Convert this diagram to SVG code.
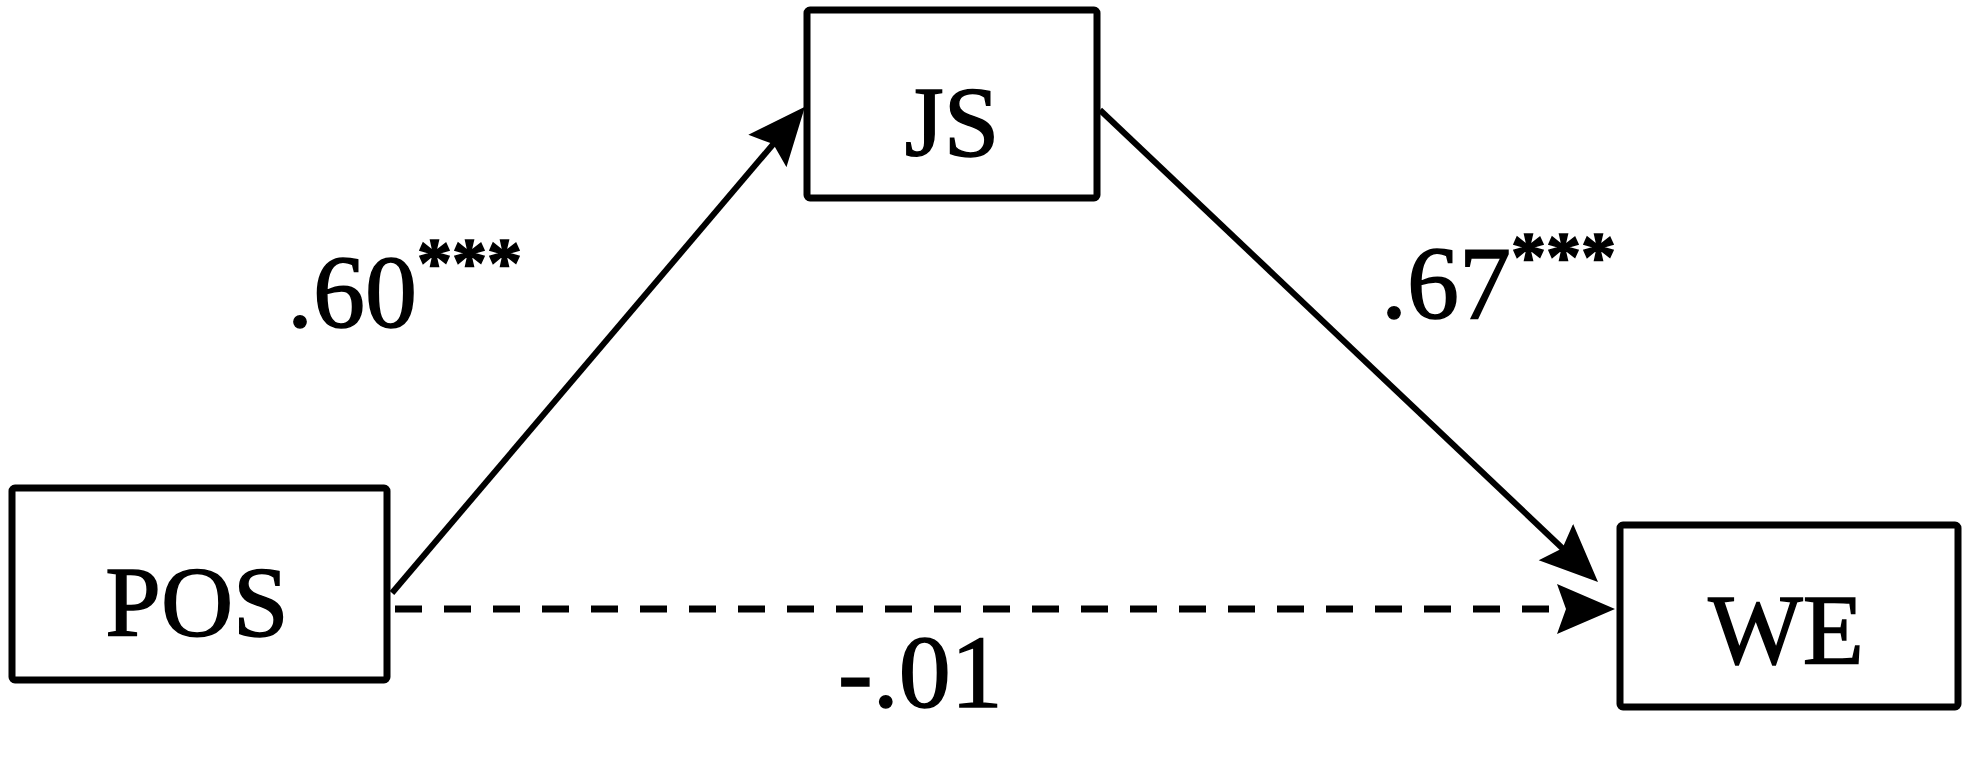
<svg xmlns="http://www.w3.org/2000/svg" width="1983" height="768" viewBox="0 0 1983 768">
<style>
.box{fill:#fff;stroke:#000;stroke-width:7}
.lbl{font-family:"Liberation Serif","Times New Roman",serif;font-size:100px;fill:#000;stroke:#000;stroke-width:1.5;text-anchor:middle}
.num{font-family:"Liberation Serif","Times New Roman",serif;font-size:104px;fill:#000;stroke:#000;stroke-width:1.5}
.star{font-size:70px;font-weight:bold}
.edge{fill:none;stroke:#000;stroke-width:6}
.dash{stroke-dasharray:27 22;stroke-width:7}
</style>
<defs>
<marker id="arr" markerUnits="userSpaceOnUse" markerWidth="60" markerHeight="52" viewBox="0 0 60 52" refX="38" refY="26" orient="auto">
<path d="M0,1 L58,26 L0,51 L9,26 z" fill="#000"/>
</marker>
</defs>
<rect width="1983" height="768" fill="#fff"/>
<g id="connectors">
<line class="edge" x1="392" y1="593" x2="792" y2="122" marker-end="url(#arr)"/>
<line class="edge" x1="1100" y1="110" x2="1583.5" y2="568.2" marker-end="url(#arr)"/>
<line class="edge dash" x1="395" y1="609" x2="1595" y2="609" marker-end="url(#arr)"/>
</g>
<g id="JS">
<rect class="box" x="807" y="10" width="290" height="188" rx="3"/>
<text class="lbl" x="952" y="155">JS</text>
</g>
<g id="POS">
<rect class="box" x="12" y="488" width="375" height="192" rx="3"/>
<text class="lbl" x="197" y="635">POS</text>
</g>
<g id="WE">
<rect class="box" x="1620" y="525" width="338" height="182" rx="3"/>
<text class="lbl" x="1786" y="663">WE</text>
</g>
<g id="labels">
<text class="num" x="287" y="327">.60<tspan class="star" dy="-41">***</tspan></text>
<text class="num" x="1381" y="318">.67<tspan class="star" dy="-38">***</tspan></text>
<text class="num" x="838" y="707">-.01</text>
</g>
</svg>
